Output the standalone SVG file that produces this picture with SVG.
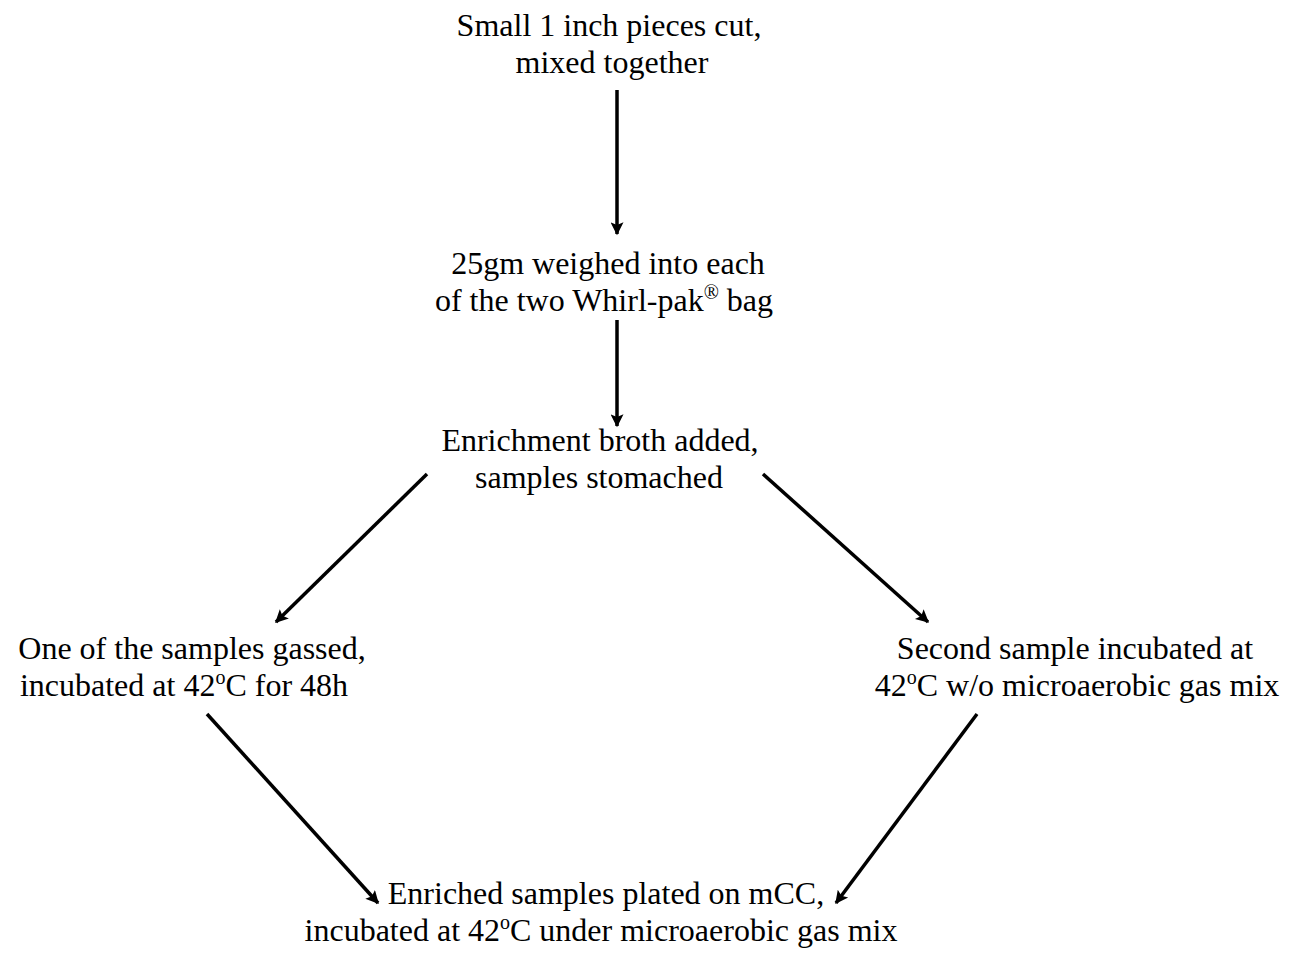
<svg xmlns="http://www.w3.org/2000/svg" width="1294" height="953" viewBox="0 0 1294 953">
<style>
text{font-family:"Liberation Serif","Times New Roman",serif;font-size:32px;fill:#000;text-anchor:middle}
.sup{font-size:20px}
.conn line{stroke:#000;stroke-width:3.5;fill:none;marker-end:url(#ah)}
</style>
<defs>
<marker id="ah" viewBox="0 0 10 10" refX="9" refY="5" markerWidth="16" markerHeight="13" markerUnits="userSpaceOnUse" orient="auto">
<path d="M0,0 L10,5 L0,10 L2,5 z" fill="#000"/>
</marker>
</defs>
<rect width="1294" height="953" fill="#fff"/>
<g id="n1"><text x="609" y="36">Small 1 inch pieces cut,</text><text x="612" y="73">mixed together</text></g>
<g id="n2"><text x="608" y="274">25gm weighed into each</text><text x="604" y="311">of the two Whirl-pak<tspan class="sup" dy="-12">®</tspan><tspan dy="12"> bag</tspan></text></g>
<g id="n3"><text x="600" y="451">Enrichment broth added,</text><text x="599" y="488">samples stomached</text></g>
<g id="n4"><text x="192" y="659">One of the samples gassed,</text><text x="184" y="696">incubated at 42<tspan class="sup" dy="-12">o</tspan><tspan dy="12">C for 48h</tspan></text></g>
<g id="n5"><text x="1075" y="659">Second sample incubated at</text><text x="1077" y="696">42<tspan class="sup" dy="-12">o</tspan><tspan dy="12">C w/o microaerobic gas mix</tspan></text></g>
<g id="n6"><text x="606" y="904">Enriched samples plated on mCC,</text><text x="601" y="941">incubated at 42<tspan class="sup" dy="-12">o</tspan><tspan dy="12">C under microaerobic gas mix</tspan></text></g>
<g id="connectors" class="conn">
<line x1="617" y1="90" x2="617" y2="234"/>
<line x1="617" y1="320" x2="617" y2="426"/>
<line x1="427" y1="474" x2="276" y2="622"/>
<line x1="763" y1="474" x2="928" y2="622"/>
<line x1="207" y1="714" x2="378" y2="903"/>
<line x1="977" y1="714" x2="836" y2="903"/>
</g>
</svg>
